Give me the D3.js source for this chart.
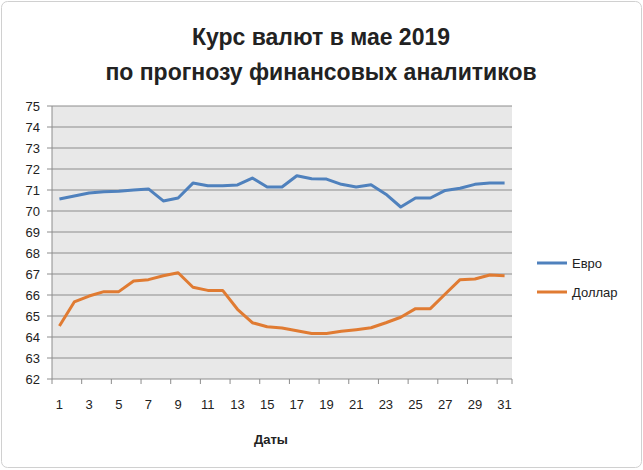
<!DOCTYPE html><html><head><meta charset="utf-8"><script src="https://cdn.jsdelivr.net/npm/d3@7"></script>
<style>body{margin:0;background:#fff}</style></head><body><svg id="c" width="643" height="470"></svg><script>
const days=d3.range(1,32);
const euro=[70.57,70.71,70.86,70.92,70.94,71.0,71.05,70.48,70.62,71.33,71.2,71.2,71.24,71.57,71.14,71.14,71.68,71.54,71.52,71.27,71.14,71.25,70.8,70.19,70.62,70.62,70.98,71.08,71.27,71.33,71.33];
const dollar=[64.52,65.67,65.95,66.16,66.16,66.67,66.73,66.92,67.06,66.37,66.22,66.22,65.32,64.68,64.49,64.43,64.3,64.17,64.17,64.27,64.35,64.44,64.68,64.94,65.35,65.35,66.05,66.73,66.76,66.95,66.92];
const yTicks=d3.range(62,76);
const series=[{name:"Евро",values:euro,color:"#4f81bd"},{name:"Доллар",values:dollar,color:"#e07b32"}];
const svg=d3.select("#c"),F="Liberation Sans, Arial, sans-serif";
svg.append("rect").attr("x",1.5).attr("y",1.5).attr("width",640).attr("height",466).attr("rx",6).attr("fill","#fff").attr("stroke","#d0d0d0");
const x=d3.scaleBand().domain(days).range([52,512]);
const y=d3.scaleLinear().domain([62,75]).range([379,106]);
svg.append("rect").attr("x",52).attr("y",106).attr("width",460).attr("height",273).attr("fill","#e8e8e8");
svg.append("g").selectAll("line").data(yTicks).join("line").attr("x1",52).attr("x2",512).attr("y1",d=>y(d)).attr("y2",d=>y(d)).attr("stroke","#8c8c8c").attr("stroke-width",1);
svg.append("line").attr("x1",52).attr("x2",52).attr("y1",106).attr("y2",379).attr("stroke","#8c8c8c");
svg.append("g").selectAll("line").data(yTicks).join("line").attr("x1",47).attr("x2",52).attr("y1",d=>y(d)).attr("y2",d=>y(d)).attr("stroke","#8c8c8c");
svg.append("g").selectAll("text").data(yTicks).join("text").attr("x",40).attr("y",d=>y(d)+4.5).attr("text-anchor","end").attr("font-family",F).attr("font-size",13).attr("fill","#222").text(d=>d);
const xt=days.filter(d=>d%2==1).concat([32]);
svg.append("g").selectAll("line").data(xt).join("line").attr("x1",d=>d==32?512:x(d)).attr("x2",d=>d==32?512:x(d)).attr("y1",379).attr("y2",384).attr("stroke","#8c8c8c");
svg.append("g").selectAll("text").data(days.filter(d=>d%2==1)).join("text").attr("x",d=>x(d)+x.bandwidth()/2).attr("y",409).attr("text-anchor","middle").attr("font-family",F).attr("font-size",13).attr("fill","#222").text(d=>d);
const line=d3.line().x((d,i)=>x(days[i])+x.bandwidth()/2).y(d=>y(d));
series.forEach((s,k)=>{
svg.append("path").attr("d",line(s.values)).attr("fill","none").attr("stroke",s.color).attr("stroke-width",3).attr("stroke-linejoin","round");
const ly=263+k*29;
svg.append("line").attr("x1",537).attr("x2",567).attr("y1",ly).attr("y2",ly).attr("stroke",s.color).attr("stroke-width",3);
svg.append("text").attr("x",572).attr("y",ly+4.5).attr("font-family",F).attr("font-size",13).attr("fill","#222").text(s.name);
});
svg.append("text").attr("x",321).attr("y",45).attr("text-anchor","middle").attr("font-family",F).attr("font-weight","bold").attr("font-size",23).attr("fill","#222").text("Курс валют в мае 2019");
svg.append("text").attr("x",321).attr("y",80).attr("text-anchor","middle").attr("font-family",F).attr("font-weight","bold").attr("font-size",23).attr("fill","#222").text("по прогнозу финансовых аналитиков");
svg.append("text").attr("x",271).attr("y",444).attr("text-anchor","middle").attr("font-family",F).attr("font-weight","bold").attr("font-size",13).attr("fill","#222").text("Даты");
</script></body></html>
